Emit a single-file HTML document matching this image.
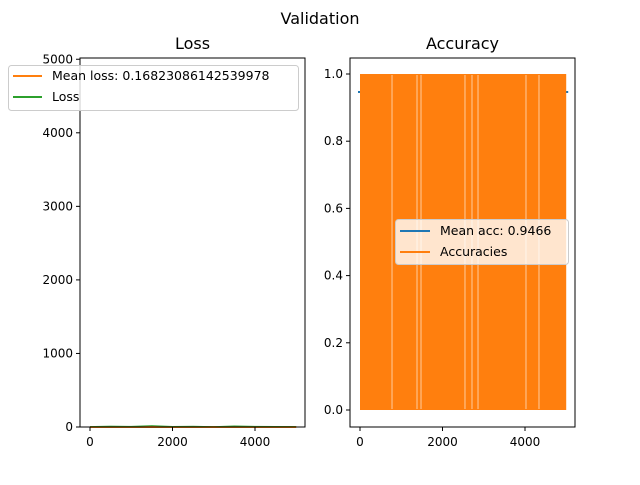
<!DOCTYPE html>
<html><head><meta charset="utf-8"><style>
body{margin:0;background:#fff;}
svg text{font-family:"DejaVu Sans","Liberation Sans",sans-serif;}
</style></head><body>
<svg id="fig" width="640" height="480" xmlns="http://www.w3.org/2000/svg">
<rect width="640" height="480" fill="#fff"/>
<text x="320" y="24" text-anchor="middle" font-size="16">Validation</text>
<g id="left"></g>
<g id="right"></g>
</svg>
<script>
const lossX = [0, 500, 1000, 1500, 2000, 2500, 3000, 3500, 4000, 4500, 4999];
const lossY = [5, 12, 8, 20, 6, 10, 4, 15, 9, 7, 5];
const meanLoss = 0.16823086142539978;
const lossYTicks = [0, 1000, 2000, 3000, 4000, 5000];
const xTicks = [0, 2000, 4000];
const accYTicks = [0, 0.2, 0.4, 0.6, 0.8, 1.0];
const accGapX = [776, 1382, 1479, 2545, 2715, 2861, 4024, 4339];
const accN = 5000;
const meanAcc = 0.9466;

const NS = "http://www.w3.org/2000/svg";
function mk(p, t, a){const e=document.createElementNS(NS,t);for(const k in a)e.setAttribute(k,a[k]);p.appendChild(e);return e;}

// Left panel
const L = document.getElementById('left');
const lx = v => 90 + v*0.04125;
const ly = v => 427 - v*0.07355;
let pts = lossX.map((x,i)=>lx(x)+','+ly(lossY[i])).join(' ');
let ml = mk(L,'line',{x1:lx(0),x2:lx(4999),y1:ly(meanLoss),y2:ly(meanLoss),stroke:'#ff7f0e','stroke-width':2});


let pl = mk(L,'polyline',{points:pts,fill:'none',stroke:'#2ca02c','stroke-width':1,'stroke-opacity':0.8});


let fr = mk(L,'rect',{x:80,y:58,width:225,height:369,fill:'none',stroke:'#000','stroke-width':1});


lossYTicks.forEach(t=>{
  mk(L,'line',{x1:76,x2:80,y1:ly(t),y2:ly(t),stroke:'#000'});
  let tx = mk(L,'text',{x:73,y:ly(t)+4,'text-anchor':'end','font-size':12});
  tx.textContent = t;
  
  
});
xTicks.forEach(t=>{
  mk(L,'line',{x1:lx(t),x2:lx(t),y1:427,y2:431,stroke:'#000'});
  let tx = mk(L,'text',{x:lx(t),y:446,'text-anchor':'middle','font-size':12});
  tx.textContent = t;
  
  
});
let tt = mk(L,'text',{x:192.5,y:49,'text-anchor':'middle','font-size':16});
tt.textContent='Loss';


let lg = mk(L,'g',{});


mk(lg,'rect',{x:8.5,y:65.5,width:290,height:45,rx:3,fill:'#fff','fill-opacity':0.8,stroke:'#ccc'});
mk(lg,'line',{x1:13,x2:42,y1:76,y2:76,stroke:'#ff7f0e','stroke-width':2});
mk(lg,'line',{x1:13,x2:42,y1:97,y2:97,stroke:'#2ca02c','stroke-width':2});
let t1=mk(lg,'text',{x:52,y:80,'font-size':12.5});t1.textContent='Mean loss: '+meanLoss;
let t2=mk(lg,'text',{x:52,y:101,'font-size':12.5});t2.textContent='Loss';

// Right panel
const R = document.getElementById('right');
const rx = v => 360 + v*0.04125;
const ry = v => 410 - v*336;
let ma = mk(R,'line',{x1:rx(0)-2,x2:rx(accN-1)+2,y1:ry(meanAcc),y2:ry(meanAcc),stroke:'#1f77b4','stroke-width':2});


let ar = mk(R,'rect',{x:rx(0),y:ry(1),width:rx(accN-1)-rx(0),height:ry(0)-ry(1),fill:'#ff7f0e'});


accGapX.forEach(g=>{
  let gl = mk(R,'line',{x1:rx(g),x2:rx(g),y1:ry(1)+1,y2:ry(0)-1,stroke:'#fff','stroke-width':1,'stroke-opacity':0.6});
  
  
});
let fr2 = mk(R,'rect',{x:350,y:58,width:225,height:369,fill:'none',stroke:'#000','stroke-width':1});


accYTicks.forEach(t=>{
  mk(R,'line',{x1:346,x2:350,y1:ry(t),y2:ry(t),stroke:'#000'});
  let tx = mk(R,'text',{x:343,y:ry(t)+4,'text-anchor':'end','font-size':12});
  tx.textContent = t.toFixed(1);
  
  
});
xTicks.forEach(t=>{
  mk(R,'line',{x1:rx(t),x2:rx(t),y1:427,y2:431,stroke:'#000'});
  let tx = mk(R,'text',{x:rx(t),y:446,'text-anchor':'middle','font-size':12});
  tx.textContent = t;
  
  
});
let tt2 = mk(R,'text',{x:462.5,y:49,'text-anchor':'middle','font-size':16});
tt2.textContent='Accuracy';


let lg2 = mk(R,'g',{});


mk(lg2,'rect',{x:395.5,y:219.5,width:173,height:45,rx:3,fill:'#fff','fill-opacity':0.8,stroke:'#ccc'});
mk(lg2,'line',{x1:400,x2:430,y1:231,y2:231,stroke:'#1f77b4','stroke-width':2});
mk(lg2,'line',{x1:400,x2:430,y1:252,y2:252,stroke:'#ff7f0e','stroke-width':2});
let t3=mk(lg2,'text',{x:440,y:235,'font-size':12.5});t3.textContent='Mean acc: '+meanAcc;
let t4=mk(lg2,'text',{x:440,y:256,'font-size':12.5});t4.textContent='Accuracies';
</script>
</body></html>
